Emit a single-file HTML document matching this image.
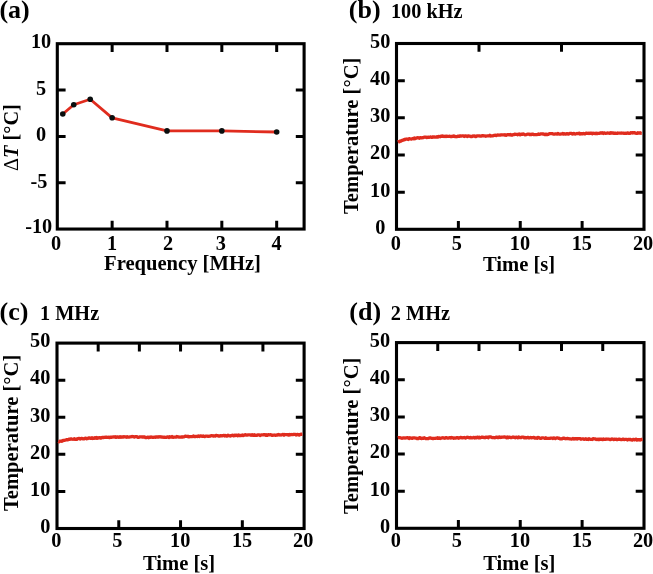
<!DOCTYPE html>
<html><head><meta charset="utf-8"><style>
html,body{margin:0;padding:0;background:#fff;}
body{width:653px;height:574px;overflow:hidden;}
svg{display:block;will-change:transform;}
text{font-family:"Liberation Serif",serif;font-weight:bold;fill:#000;}
</style></head><body>
<svg width="653" height="574" viewBox="0 0 653 574">
<path d="M112.14,229.05V220.75M166.99,229.05V220.75M221.83,229.05V220.75M276.68,229.05V220.75M112.14,43.70V52.00M166.99,43.70V52.00M221.83,43.70V52.00M276.68,43.70V52.00M57.30,182.71H65.60M304.10,182.71H295.80M57.30,136.38H65.60M304.10,136.38H295.80M57.30,90.04H65.60M304.10,90.04H295.80" stroke="#000" stroke-width="3.0" fill="none"/>
<rect x="57.30" y="43.70" width="246.80" height="185.35" stroke="#000" stroke-width="3.1" fill="none"/>
<polyline points="62.78,114.02 73.75,104.75 90.21,99.28 112.14,117.82 166.99,130.89 221.83,130.89 276.68,132.00" stroke="#e02c1e" stroke-width="2.8" fill="none" stroke-linejoin="round"/>
<circle cx="62.78" cy="114.02" r="2.8" fill="#0a0f0f"/>
<circle cx="73.75" cy="104.75" r="2.8" fill="#0a0f0f"/>
<circle cx="90.21" cy="99.28" r="2.8" fill="#0a0f0f"/>
<circle cx="112.14" cy="117.82" r="2.8" fill="#0a0f0f"/>
<circle cx="166.99" cy="130.89" r="2.8" fill="#0a0f0f"/>
<circle cx="221.83" cy="130.89" r="2.8" fill="#0a0f0f"/>
<circle cx="276.68" cy="132.00" r="2.8" fill="#0a0f0f"/>
<text x="41.10" y="48.30" text-anchor="middle" font-size="20.3" >10</text>
<text x="41.10" y="94.64" text-anchor="middle" font-size="20.3" >5</text>
<text x="41.10" y="141.38" text-anchor="middle" font-size="20.3" >0</text>
<text x="39.00" y="188.21" text-anchor="middle" font-size="20.3" >-5</text>
<text x="38.70" y="233.35" text-anchor="middle" font-size="20.3" >-10</text>
<text x="55.95" y="249.80" text-anchor="middle" font-size="20.3" >0</text>
<text x="112.14" y="249.80" text-anchor="middle" font-size="20.3" >1</text>
<text x="168.09" y="249.80" text-anchor="middle" font-size="20.3" >2</text>
<text x="220.83" y="249.80" text-anchor="middle" font-size="20.3" >3</text>
<text x="276.48" y="249.80" text-anchor="middle" font-size="20.3" >4</text>
<text x="104.05" y="270.00" text-anchor="start" font-size="20.6" >Frequency [MHz]</text>
<text transform="translate(17.7,137.6) rotate(-90)" text-anchor="middle" font-size="20.3"><tspan font-family="Liberation Serif" font-weight="normal">&#916;</tspan><tspan font-style="italic">T</tspan> [&#176;C]</text>
<text x="-0.60" y="18.30" text-anchor="start" font-size="26.0" >(a)</text>
<path d="M458.38,229.30V221.00M520.25,229.30V221.00M582.12,229.30V221.00M479.00,43.50V51.80M561.50,43.50V51.80M396.50,192.14H404.80M644.00,192.14H635.70M396.50,154.98H404.80M644.00,154.98H635.70M396.50,117.82H404.80M644.00,117.82H635.70M396.50,80.66H404.80M644.00,80.66H635.70" stroke="#000" stroke-width="3.0" fill="none"/>
<rect x="396.50" y="43.50" width="247.50" height="185.80" stroke="#000" stroke-width="3.1" fill="none"/>
<text x="380.20" y="233.80" text-anchor="middle" font-size="20.3" >0</text>
<text x="380.20" y="196.64" text-anchor="middle" font-size="20.3" >10</text>
<text x="380.20" y="159.48" text-anchor="middle" font-size="20.3" >20</text>
<text x="380.20" y="122.32" text-anchor="middle" font-size="20.3" >30</text>
<text x="380.20" y="85.16" text-anchor="middle" font-size="20.3" >40</text>
<text x="380.20" y="48.00" text-anchor="middle" font-size="20.3" >50</text>
<text x="395.70" y="249.50" text-anchor="middle" font-size="20.3" >0</text>
<text x="456.88" y="249.50" text-anchor="middle" font-size="20.3" >5</text>
<text x="519.95" y="249.50" text-anchor="middle" font-size="20.3" >10</text>
<text x="581.83" y="249.50" text-anchor="middle" font-size="20.3" >15</text>
<text x="643.10" y="249.50" text-anchor="middle" font-size="20.3" >20</text>
<text x="482.94" y="270.50" text-anchor="start" font-size="20.6" >Time [s]</text>
<text transform="translate(358.2,135.8) rotate(-90)" text-anchor="middle" font-size="20.6">Temperature [&#176;C]</text>
<text x="348.80" y="18.40" text-anchor="start" font-size="26.0" >(b)</text>
<text x="390.90" y="18.30" text-anchor="start" font-size="20.3" >100 kHz</text>
<polyline points="397.80,142.04 398.60,141.60 399.40,141.76 400.20,140.95 401.00,141.08 401.80,140.63 402.60,140.07 403.40,140.18 404.20,139.47 405.00,139.54 405.80,139.11 406.60,139.02 407.40,139.22 408.20,139.48 409.00,138.74 409.80,138.73 410.60,138.99 411.40,139.17 412.20,138.73 413.00,138.47 413.80,138.88 414.60,137.94 415.40,138.59 416.20,138.01 417.00,137.82 417.80,137.73 418.60,137.84 419.40,138.23 420.20,137.60 421.00,137.89 421.80,137.88 422.60,137.58 423.40,137.67 424.20,137.17 425.00,137.10 425.80,137.19 426.60,137.57 427.40,137.29 428.20,137.14 429.00,137.34 429.80,137.17 430.60,136.98 431.40,137.38 432.20,137.25 433.00,136.79 433.80,137.04 434.60,136.95 435.40,137.21 436.20,137.02 437.00,136.57 437.80,137.14 438.60,136.30 439.40,136.52 440.20,136.77 441.00,136.17 441.80,136.41 442.60,135.95 443.40,136.46 444.20,136.49 445.00,136.27 445.80,136.55 446.60,136.05 447.40,136.40 448.20,136.32 449.00,136.31 449.80,136.21 450.60,136.56 451.40,136.66 452.20,136.25 453.00,136.43 453.80,135.89 454.60,136.48 455.40,136.43 456.20,136.73 457.00,136.57 457.80,136.08 458.60,136.17 459.40,136.42 460.20,135.83 461.00,136.22 461.80,135.95 462.60,135.89 463.40,135.84 464.20,136.47 465.00,135.89 465.80,135.99 466.60,136.11 467.40,136.54 468.20,135.82 469.00,136.14 469.80,136.23 470.60,136.52 471.40,136.46 472.20,136.49 473.00,135.96 473.80,136.07 474.60,136.02 475.40,136.48 476.20,136.54 477.00,135.81 477.80,135.83 478.60,135.87 479.40,135.86 480.20,136.08 481.00,136.14 481.80,135.81 482.60,135.55 483.40,135.89 484.20,135.81 485.00,135.96 485.80,136.28 486.60,136.01 487.40,135.82 488.20,135.88 489.00,135.90 489.80,135.31 490.60,136.04 491.40,135.90 492.20,135.95 493.00,135.85 493.80,135.45 494.60,135.43 495.40,135.13 496.20,135.57 497.00,135.03 497.80,135.00 498.60,135.09 499.40,135.02 500.20,135.15 501.00,134.85 501.80,134.77 502.60,134.87 503.40,134.79 504.20,134.99 505.00,134.65 505.80,135.38 506.60,135.11 507.40,134.65 508.20,134.71 509.00,134.76 509.80,134.74 510.60,134.48 511.40,135.10 512.20,135.19 513.00,134.68 513.80,134.66 514.60,134.27 515.40,134.25 516.20,134.43 517.00,134.32 517.80,134.79 518.60,134.16 519.40,134.00 520.20,134.80 521.00,134.42 521.80,134.07 522.60,134.42 523.40,133.95 524.20,134.39 525.00,134.79 525.80,134.68 526.60,134.52 527.40,134.13 528.20,134.21 529.00,134.03 529.80,134.57 530.60,134.34 531.40,134.56 532.20,134.15 533.00,134.05 533.80,134.57 534.60,134.72 535.40,134.59 536.20,134.55 537.00,134.55 537.80,134.47 538.60,134.01 539.40,134.26 540.20,134.11 541.00,133.81 541.80,133.80 542.60,134.02 543.40,134.00 544.20,134.38 545.00,134.61 545.80,134.10 546.60,134.50 547.40,134.50 548.20,134.42 549.00,133.84 549.80,133.66 550.60,133.65 551.40,133.61 552.20,133.61 553.00,133.98 553.80,134.22 554.60,134.16 555.40,133.83 556.20,133.98 557.00,134.10 557.80,133.45 558.60,133.96 559.40,134.17 560.20,134.05 561.00,134.02 561.80,133.76 562.60,133.48 563.40,134.03 564.20,133.61 565.00,134.02 565.80,134.17 566.60,133.64 567.40,133.64 568.20,134.12 569.00,133.91 569.80,133.41 570.60,133.36 571.40,133.37 572.20,134.04 573.00,133.95 573.80,133.34 574.60,133.95 575.40,134.08 576.20,133.78 577.00,133.50 577.80,133.67 578.60,133.28 579.40,133.17 580.20,134.02 581.00,133.72 581.80,133.59 582.60,133.95 583.40,133.48 584.20,133.86 585.00,133.81 585.80,133.24 586.60,133.27 587.40,133.29 588.20,133.23 589.00,133.53 589.80,133.22 590.60,133.35 591.40,133.08 592.20,133.77 593.00,133.25 593.80,133.33 594.60,133.43 595.40,133.71 596.20,133.26 597.00,133.69 597.80,133.30 598.60,133.32 599.40,133.30 600.20,132.83 601.00,133.20 601.80,132.95 602.60,132.78 603.40,133.48 604.20,132.90 605.00,133.16 605.80,133.37 606.60,133.21 607.40,132.99 608.20,133.15 609.00,133.17 609.80,133.36 610.60,132.74 611.40,133.15 612.20,132.87 613.00,132.89 613.80,133.33 614.60,133.09 615.40,133.14 616.20,133.31 617.00,133.45 617.80,133.02 618.60,133.17 619.40,133.08 620.20,133.08 621.00,133.24 621.80,133.02 622.60,133.09 623.40,133.04 624.20,133.45 625.00,133.23 625.80,133.39 626.60,133.45 627.40,132.83 628.20,133.10 629.00,133.44 629.80,133.34 630.60,132.71 631.40,132.69 632.20,132.98 633.00,132.64 633.80,132.79 634.60,132.64 635.40,133.17 636.20,133.27 637.00,133.37 637.80,132.70 638.60,133.21 639.40,133.15 640.20,132.69 641.00,133.35 641.80,133.42" stroke="#e02c1e" stroke-width="3.3" fill="none" stroke-linejoin="round"/>
<path d="M118.78,528.50V520.20M180.55,528.50V520.20M242.33,528.50V520.20M98.18,343.10V351.40M139.37,343.10V351.40M180.55,343.10V351.40M221.73,343.10V351.40M262.92,343.10V351.40M57.00,491.42H65.30M304.10,491.42H295.80M57.00,454.34H65.30M304.10,454.34H295.80M57.00,417.26H65.30M304.10,417.26H295.80M57.00,380.18H65.30M304.10,380.18H295.80" stroke="#000" stroke-width="3.0" fill="none"/>
<rect x="57.00" y="343.10" width="247.10" height="185.40" stroke="#000" stroke-width="3.1" fill="none"/>
<text x="50.30" y="532.80" text-anchor="end" font-size="20.3" >0</text>
<text x="50.30" y="495.72" text-anchor="end" font-size="20.3" >10</text>
<text x="50.30" y="458.64" text-anchor="end" font-size="20.3" >20</text>
<text x="50.30" y="421.56" text-anchor="end" font-size="20.3" >30</text>
<text x="50.30" y="384.48" text-anchor="end" font-size="20.3" >40</text>
<text x="50.30" y="347.40" text-anchor="end" font-size="20.3" >50</text>
<text x="56.20" y="547.10" text-anchor="middle" font-size="20.3" >0</text>
<text x="117.28" y="547.10" text-anchor="middle" font-size="20.3" >5</text>
<text x="180.25" y="547.10" text-anchor="middle" font-size="20.3" >10</text>
<text x="242.03" y="547.10" text-anchor="middle" font-size="20.3" >15</text>
<text x="303.20" y="547.10" text-anchor="middle" font-size="20.3" >20</text>
<text x="142.94" y="569.60" text-anchor="start" font-size="20.6" >Time [s]</text>
<text transform="translate(17.6,432.9) rotate(-90)" text-anchor="middle" font-size="20.6">Temperature [&#176;C]</text>
<text x="-0.50" y="319.80" text-anchor="start" font-size="26.0" >(c)</text>
<text x="40.00" y="320.00" text-anchor="start" font-size="20.3" >1 MHz</text>
<polyline points="58.40,441.25 59.20,441.76 60.00,441.10 60.80,441.03 61.60,441.33 62.40,441.04 63.20,440.28 64.00,440.38 64.80,440.30 65.60,439.99 66.40,439.71 67.20,439.67 68.00,439.88 68.80,439.10 69.60,439.42 70.40,439.22 71.20,438.80 72.00,439.04 72.80,439.26 73.60,439.11 74.40,438.67 75.20,439.45 76.00,439.23 76.80,439.35 77.60,438.53 78.40,438.63 79.20,438.38 80.00,439.00 80.80,438.50 81.60,438.33 82.40,438.55 83.20,438.94 84.00,438.82 84.80,438.27 85.60,438.13 86.40,438.78 87.20,438.42 88.00,438.49 88.80,437.90 89.60,437.82 90.40,438.35 91.20,438.08 92.00,437.74 92.80,438.48 93.60,438.18 94.40,438.30 95.20,437.62 96.00,438.28 96.80,437.54 97.60,438.22 98.40,437.82 99.20,437.69 100.00,437.85 100.80,438.15 101.60,437.53 102.40,437.37 103.20,437.70 104.00,437.40 104.80,437.26 105.60,437.27 106.40,437.14 107.20,437.24 108.00,437.31 108.80,437.27 109.60,437.65 110.40,437.19 111.20,437.35 112.00,437.03 112.80,437.15 113.60,436.82 114.40,437.00 115.20,436.76 116.00,437.37 116.80,437.17 117.60,436.82 118.40,437.04 119.20,437.42 120.00,436.65 120.80,437.26 121.60,436.87 122.40,436.90 123.20,437.17 124.00,436.74 124.80,436.81 125.60,436.98 126.40,437.25 127.20,436.69 128.00,437.14 128.80,437.04 129.60,436.98 130.40,436.79 131.20,436.75 132.00,436.49 132.80,436.57 133.60,436.53 134.40,437.14 135.20,436.72 136.00,436.64 136.80,436.58 137.60,437.28 138.40,437.31 139.20,437.14 140.00,436.80 140.80,436.80 141.60,436.88 142.40,437.06 143.20,436.82 144.00,437.11 144.80,436.98 145.60,437.64 146.40,437.68 147.20,437.33 148.00,437.09 148.80,437.77 149.60,437.21 150.40,437.26 151.20,436.93 152.00,437.25 152.80,437.32 153.60,437.33 154.40,437.04 155.20,437.30 156.00,436.83 156.80,437.05 157.60,436.88 158.40,437.14 159.20,436.80 160.00,436.77 160.80,437.01 161.60,436.93 162.40,437.23 163.20,437.16 164.00,437.35 164.80,437.25 165.60,437.28 166.40,437.41 167.20,436.96 168.00,436.88 168.80,437.46 169.60,436.69 170.40,437.19 171.20,437.10 172.00,436.55 172.80,437.25 173.60,437.28 174.40,437.03 175.20,437.11 176.00,437.16 176.80,436.53 177.60,436.86 178.40,436.82 179.20,437.10 180.00,437.05 180.80,437.05 181.60,436.82 182.40,437.08 183.20,436.87 184.00,436.86 184.80,436.42 185.60,436.22 186.40,436.30 187.20,436.48 188.00,436.23 188.80,436.87 189.60,436.60 190.40,436.65 191.20,436.62 192.00,436.65 192.80,436.46 193.60,436.01 194.40,436.70 195.20,436.64 196.00,436.40 196.80,436.41 197.60,436.50 198.40,435.95 199.20,436.53 200.00,436.08 200.80,435.90 201.60,436.05 202.40,436.45 203.20,435.96 204.00,436.42 204.80,436.61 205.60,436.16 206.40,436.04 207.20,436.11 208.00,436.27 208.80,436.33 209.60,436.17 210.40,436.18 211.20,435.65 212.00,435.69 212.80,435.77 213.60,436.19 214.40,435.78 215.20,436.00 216.00,435.48 216.80,435.50 217.60,435.67 218.40,436.01 219.20,436.01 220.00,435.98 220.80,435.61 221.60,435.80 222.40,435.73 223.20,435.71 224.00,435.38 224.80,436.06 225.60,435.41 226.40,436.10 227.20,436.04 228.00,435.19 228.80,435.57 229.60,435.88 230.40,435.99 231.20,435.51 232.00,435.32 232.80,435.25 233.60,435.89 234.40,435.21 235.20,435.53 236.00,435.11 236.80,435.44 237.60,435.81 238.40,435.05 239.20,435.65 240.00,435.35 240.80,435.67 241.60,435.48 242.40,435.04 243.20,435.62 244.00,435.23 244.80,434.80 245.60,434.76 246.40,435.18 247.20,435.12 248.00,434.97 248.80,434.81 249.60,434.97 250.40,434.93 251.20,435.40 252.00,434.64 252.80,435.30 253.60,435.38 254.40,434.72 255.20,435.44 256.00,435.24 256.80,435.41 257.60,434.85 258.40,434.92 259.20,434.93 260.00,435.47 260.80,435.09 261.60,434.88 262.40,434.94 263.20,434.79 264.00,434.58 264.80,434.62 265.60,435.28 266.40,434.78 267.20,435.35 268.00,434.73 268.80,434.74 269.60,434.95 270.40,434.66 271.20,434.82 272.00,435.33 272.80,435.26 273.60,435.19 274.40,435.02 275.20,435.27 276.00,435.28 276.80,434.92 277.60,435.06 278.40,434.45 279.20,435.05 280.00,434.78 280.80,435.04 281.60,434.94 282.40,434.60 283.20,434.38 284.00,435.15 284.80,434.42 285.60,434.72 286.40,434.60 287.20,434.54 288.00,434.93 288.80,435.13 289.60,434.47 290.40,434.82 291.20,434.49 292.00,434.71 292.80,434.55 293.60,434.33 294.40,434.32 295.20,434.35 296.00,434.96 296.80,434.58 297.60,434.32 298.40,434.93 299.20,435.00 300.00,434.50 300.80,434.20 301.60,434.24 302.40,434.14" stroke="#e02c1e" stroke-width="3.3" fill="none" stroke-linejoin="round"/>
<path d="M458.38,528.30V520.00M520.25,528.30V520.00M582.12,528.30V520.00M437.75,342.60V350.90M479.00,342.60V350.90M520.25,342.60V350.90M561.50,342.60V350.90M602.75,342.60V350.90M396.50,491.16H404.80M644.00,491.16H635.70M396.50,454.02H404.80M644.00,454.02H635.70M396.50,416.88H404.80M644.00,416.88H635.70M396.50,379.74H404.80M644.00,379.74H635.70" stroke="#000" stroke-width="3.0" fill="none"/>
<rect x="396.50" y="342.60" width="247.50" height="185.70" stroke="#000" stroke-width="3.1" fill="none"/>
<text x="390.10" y="532.70" text-anchor="end" font-size="20.3" >0</text>
<text x="390.10" y="495.56" text-anchor="end" font-size="20.3" >10</text>
<text x="390.10" y="458.42" text-anchor="end" font-size="20.3" >20</text>
<text x="390.10" y="421.28" text-anchor="end" font-size="20.3" >30</text>
<text x="390.10" y="384.14" text-anchor="end" font-size="20.3" >40</text>
<text x="390.10" y="347.00" text-anchor="end" font-size="20.3" >50</text>
<text x="395.70" y="546.60" text-anchor="middle" font-size="20.3" >0</text>
<text x="456.88" y="546.60" text-anchor="middle" font-size="20.3" >5</text>
<text x="519.95" y="546.60" text-anchor="middle" font-size="20.3" >10</text>
<text x="581.83" y="546.60" text-anchor="middle" font-size="20.3" >15</text>
<text x="643.10" y="546.60" text-anchor="middle" font-size="20.3" >20</text>
<text x="483.20" y="570.20" text-anchor="start" font-size="20.6" >Time [s]</text>
<text transform="translate(358.0,435.8) rotate(-90)" text-anchor="middle" font-size="20.6">Temperature [&#176;C]</text>
<text x="349.30" y="320.00" text-anchor="start" font-size="26.0" >(d)</text>
<text x="390.80" y="319.90" text-anchor="start" font-size="20.3" >2 MHz</text>
<polyline points="397.80,437.76 398.60,437.54 399.40,437.69 400.20,437.71 401.00,438.00 401.80,438.30 402.60,438.18 403.40,437.89 404.20,437.90 405.00,438.01 405.80,437.89 406.60,437.86 407.40,437.63 408.20,437.83 409.00,438.46 409.80,437.71 410.60,438.06 411.40,438.19 412.20,438.41 413.00,437.83 413.80,437.89 414.60,437.88 415.40,438.03 416.20,438.08 417.00,438.55 417.80,438.46 418.60,438.49 419.40,437.74 420.20,437.76 421.00,438.38 421.80,438.55 422.60,438.18 423.40,438.30 424.20,437.78 425.00,438.14 425.80,438.63 426.60,438.55 427.40,438.59 428.20,438.70 429.00,438.06 429.80,437.95 430.60,437.98 431.40,438.30 432.20,438.43 433.00,438.65 433.80,438.44 434.60,438.36 435.40,438.45 436.20,438.16 437.00,438.23 437.80,437.76 438.60,438.41 439.40,437.90 440.20,438.51 441.00,438.25 441.80,437.93 442.60,437.76 443.40,437.85 444.20,438.19 445.00,438.23 445.80,437.69 446.60,437.64 447.40,438.03 448.20,438.07 449.00,437.88 449.80,437.72 450.60,438.05 451.40,437.50 452.20,437.75 453.00,437.88 453.80,438.32 454.60,438.02 455.40,438.22 456.20,437.84 457.00,437.61 457.80,437.61 458.60,438.24 459.40,437.99 460.20,437.62 461.00,437.35 461.80,437.77 462.60,437.91 463.40,437.67 464.20,437.51 465.00,437.87 465.80,438.09 466.60,437.44 467.40,437.26 468.20,437.52 469.00,437.58 469.80,437.80 470.60,437.35 471.40,437.88 472.20,437.81 473.00,437.59 473.80,437.30 474.60,437.98 475.40,437.37 476.20,437.82 477.00,437.27 477.80,437.25 478.60,437.72 479.40,437.29 480.20,437.87 481.00,437.45 481.80,437.16 482.60,437.17 483.40,437.34 484.20,437.55 485.00,437.79 485.80,437.05 486.60,437.26 487.40,437.08 488.20,437.76 489.00,436.99 489.80,436.90 490.60,436.91 491.40,437.21 492.20,437.67 493.00,437.66 493.80,437.52 494.60,437.76 495.40,437.71 496.20,437.17 497.00,437.04 497.80,437.72 498.60,437.55 499.40,436.91 500.20,437.48 501.00,437.23 501.80,437.23 502.60,437.19 503.40,437.05 504.20,436.90 505.00,437.15 505.80,437.22 506.60,437.77 507.40,437.02 508.20,437.78 509.00,437.10 509.80,437.24 510.60,437.66 511.40,437.66 512.20,437.31 513.00,436.97 513.80,437.36 514.60,437.27 515.40,437.76 516.20,437.11 517.00,437.27 517.80,437.75 518.60,436.97 519.40,437.32 520.20,437.69 521.00,437.67 521.80,437.03 522.60,437.05 523.40,437.10 524.20,437.89 525.00,437.31 525.80,437.78 526.60,437.93 527.40,437.45 528.20,437.41 529.00,438.05 529.80,437.77 530.60,437.47 531.40,437.90 532.20,437.56 533.00,437.54 533.80,437.32 534.60,438.02 535.40,438.19 536.20,437.95 537.00,438.25 537.80,437.45 538.60,437.66 539.40,437.90 540.20,438.35 541.00,438.37 541.80,437.88 542.60,437.78 543.40,437.96 544.20,438.04 545.00,438.45 545.80,437.80 546.60,438.38 547.40,438.35 548.20,438.44 549.00,438.42 549.80,438.29 550.60,438.06 551.40,438.07 552.20,438.13 553.00,438.52 553.80,437.91 554.60,438.03 555.40,438.55 556.20,438.12 557.00,437.97 557.80,437.96 558.60,438.45 559.40,438.26 560.20,438.87 561.00,438.80 561.80,438.91 562.60,438.28 563.40,438.14 564.20,438.17 565.00,438.55 565.80,438.76 566.60,438.54 567.40,438.37 568.20,438.55 569.00,438.75 569.80,438.82 570.60,438.90 571.40,439.01 572.20,438.87 573.00,438.40 573.80,439.06 574.60,438.59 575.40,438.85 576.20,438.70 577.00,439.04 577.80,438.58 578.60,438.64 579.40,438.66 580.20,438.59 581.00,439.26 581.80,439.00 582.60,438.79 583.40,438.86 584.20,439.41 585.00,438.99 585.80,438.75 586.60,439.29 587.40,439.16 588.20,439.48 589.00,438.69 589.80,439.04 590.60,439.36 591.40,439.40 592.20,439.48 593.00,438.70 593.80,438.94 594.60,438.80 595.40,438.88 596.20,439.60 597.00,439.26 597.80,439.58 598.60,439.10 599.40,439.55 600.20,439.19 601.00,439.03 601.80,439.51 602.60,439.68 603.40,438.94 604.20,439.39 605.00,439.42 605.80,439.08 606.60,439.23 607.40,439.03 608.20,439.10 609.00,439.16 609.80,439.49 610.60,439.54 611.40,439.15 612.20,438.98 613.00,439.27 613.80,439.60 614.60,439.16 615.40,439.28 616.20,439.19 617.00,439.73 617.80,439.51 618.60,439.09 619.40,439.13 620.20,439.40 621.00,439.55 621.80,439.63 622.60,439.15 623.40,439.22 624.20,439.71 625.00,439.46 625.80,439.35 626.60,439.38 627.40,439.97 628.20,439.40 629.00,439.63 629.80,439.45 630.60,439.51 631.40,439.92 632.20,440.05 633.00,439.49 633.80,439.35 634.60,439.83 635.40,439.37 636.20,439.20 637.00,440.01 637.80,439.59 638.60,439.95 639.40,439.59 640.20,440.02 641.00,439.65 641.80,439.39 642.60,439.26" stroke="#e02c1e" stroke-width="3.3" fill="none" stroke-linejoin="round"/>
</svg>
</body></html>
